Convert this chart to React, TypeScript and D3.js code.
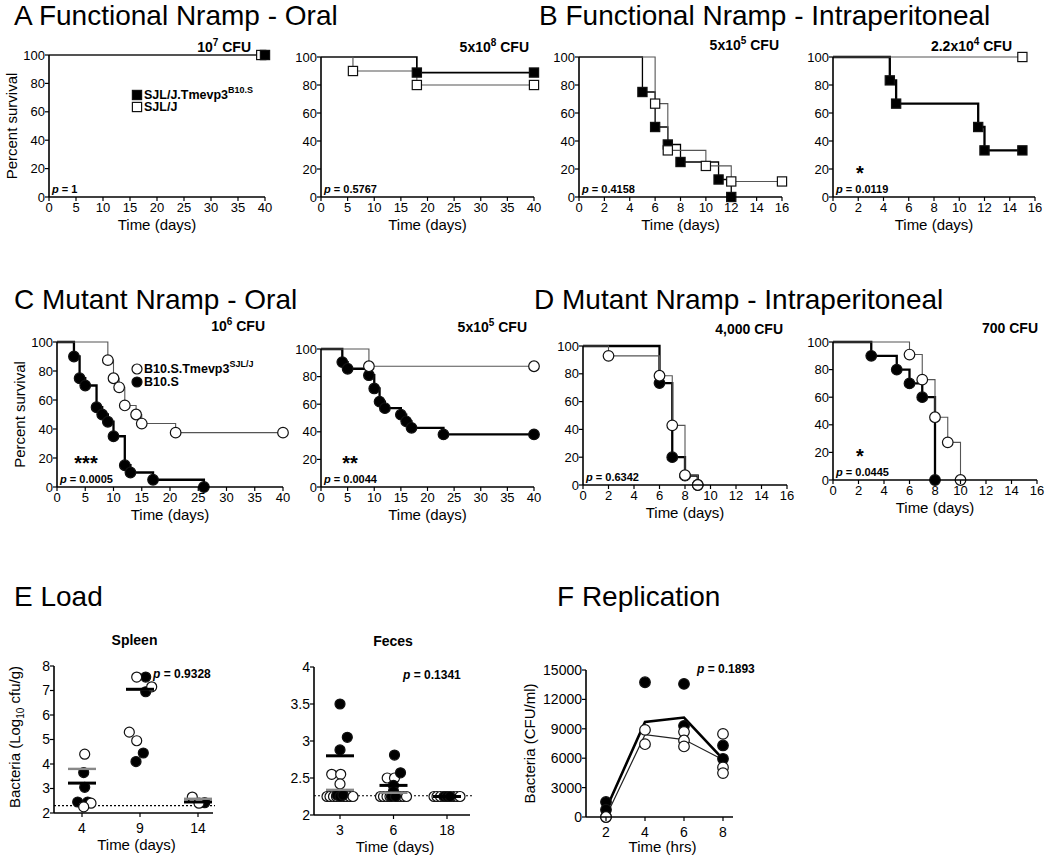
import React from "react";
import * as d3 from "d3";

const FONT = "'Liberation Sans', Arial, Helvetica, sans-serif";

// ---------------- DATA ----------------
const KM_Y_TICKS = [0, 20, 40, 60, 80, 100];
const X_TICKS_40 = [0, 5, 10, 15, 20, 25, 30, 35, 40];
const X_TICKS_16 = [0, 2, 4, 6, 8, 10, 12, 14, 16];

// A: Functional Nramp - Oral (squares). filled = SJL/J.Tmevp3B10.S, open = SJL/J
const A1_FILLED_T = [40];
const A1_FILLED_S = [100];
const A1_OPEN_T = [39.3];
const A1_OPEN_S = [100];
const A2_FILLED_T = [18, 40];
const A2_FILLED_S = [88.9, 88.9];
const A2_OPEN_T = [6, 18, 40];
const A2_OPEN_S = [90, 80, 80];

// B: Functional Nramp - Intraperitoneal
const B1_FILLED_T = [5, 6, 7, 8, 11, 12];
const B1_FILLED_S = [75, 50, 37.5, 25, 12.5, 0];
const B1_OPEN_T = [6, 7, 10, 12, 16];
const B1_OPEN_S = [66.7, 33.3, 22.2, 11.1, 11.1];
const B2_FILLED_T = [4.5, 5, 11.5, 12, 15];
const B2_FILLED_S = [83.3, 66.7, 50, 33.3, 33.3];
const B2_OPEN_T = [15];
const B2_OPEN_S = [100];

// C: Mutant Nramp - Oral (circles). filled = B10.S, open = B10.S.Tmevp3SJL/J
const C1_FILLED_T = [3, 4, 5, 7, 8, 9, 10, 12, 13, 17, 26];
const C1_FILLED_S = [90, 75, 70, 55, 50, 45, 35, 15, 10, 5, 0];
const C1_OPEN_T = [9, 10, 11, 12, 14, 15, 21, 40];
const C1_OPEN_S = [87.5, 75, 68.75, 56.25, 50, 43.75, 37.5, 37.5];
const C2_FILLED_T = [4, 5, 9, 10, 11, 12, 15, 16, 17, 23, 40];
const C2_FILLED_S = [90.5, 85.7, 81, 71.4, 61.9, 57.1, 52.4, 47.6, 42.9, 38.1, 38.1];
const C2_OPEN_T = [9, 40];
const C2_OPEN_S = [87.5, 87.5];

// D: Mutant Nramp - Intraperitoneal
const D1_FILLED_T = [6, 7, 8, 9];
const D1_FILLED_S = [73.3, 20, 6.7, 0];
const D1_OPEN_T = [2, 6, 7, 8, 9];
const D1_OPEN_S = [92.9, 78.6, 42.9, 7.1, 0];
const D2_FILLED_T = [3, 5, 6, 7, 8];
const D2_FILLED_S = [90, 80, 70, 60, 0];
const D2_OPEN_T = [6, 7, 8, 9, 10];
const D2_OPEN_S = [90.9, 72.7, 45.5, 27.3, 0];

// E: Load - Spleen (log10 cfu/g)
const SPLEEN_DAYS = ["4", "9", "14"];
const SPLEEN_Y_TICKS = [2, 3, 4, 5, 6, 7, 8];
const SPLEEN_FILLED_DAY = ["4", "4", "4", "4", "9", "9", "9", "9", "14"];
const SPLEEN_FILLED_VAL = [3.65, 3.05, 2.45, 2.45, 7.55, 6.95, 4.45, 4.1, 2.42];
const SPLEEN_FILLED_JIT = [0.17, 0.27, -0.43, 0.57, 0.57, 0.57, 0.33, -0.4, 0.67];
const SPLEEN_OPEN_DAY = ["4", "4", "4", "9", "9", "9", "9", "14", "14"];
const SPLEEN_OPEN_VAL = [4.4, 2.4, 2.25, 7.55, 7.15, 5.3, 4.95, 2.65, 2.4];
const SPLEEN_OPEN_JIT = [0.27, 0.9, 0.17, -0.33, 1.17, -1.07, -0.33, -0.57, 0.1];
const SPLEEN_FILLED_MEAN = [3.22, 7.05, 2.45];
const SPLEEN_OPEN_MEAN = [3.8, 7.05, 2.58];
const SPLEEN_LIMIT = 2.3;

// E: Load - Feces
const FECES_DAYS = ["3", "6", "18"];
const FECES_Y_TICKS = [2, 2.5, 3, 3.5, 4];
const FECES_FILLED_DAY = ["3", "3", "3", "3", "3", "3", "6", "6", "6", "6", "6", "6", "18", "18", "18"];
const FECES_FILLED_VAL = [3.5, 3.05, 2.88, 2.27, 2.25, 2.27, 2.81, 2.57, 2.4, 2.32, 2.25, 2.25, 2.25, 2.25, 2.25];
const FECES_FILLED_JIT = [0, 0.73, 0, -0.3, 0, 0.3, 0.1, 0.7, 0, 0, -0.2, 0.2, -0.3, 0, 0.3];
const FECES_OPEN_DAY = ["3", "3", "3", "3", "3", "3", "3", "3", "3", "3", "3", "6", "6", "6", "6", "6", "6", "6", "6", "6", "6", "18", "18", "18", "18", "18", "18"];
const FECES_OPEN_VAL = [2.55, 2.55, 2.42, 2.25, 2.25, 2.25, 2.25, 2.25, 2.25, 2.25, 2.25, 2.5, 2.5, 2.25, 2.25, 2.25, 2.25, 2.25, 2.25, 2.25, 2.25, 2.25, 2.25, 2.25, 2.25, 2.25, 2.25];
const FECES_OPEN_JIT = [-0.83, 0.07, 0, -1.3, -1.0, -0.65, -0.35, 0.35, 0.65, 1.0, 1.3, -0.63, 0.1, -1.3, -1.0, -0.65, -0.35, 0.35, 0.65, 1.0, 1.3, -1.3, -1.0, -0.65, 0.65, 1.0, 1.3];
const FECES_FILLED_MEAN = [2.8, 2.4, 2.25];
const FECES_OPEN_MEAN = [2.34, 2.3, 2.25];
const FECES_LIMIT = 2.26;

// F: Replication (CFU/ml)
const REP_TIMES = ["2", "4", "6", "8"];
const REP_Y_TICKS = [0, 3000, 6000, 9000, 12000, 15000];
const REP_FILLED_T = ["2", "2", "4", "6", "6", "8", "8"];
const REP_FILLED_VAL = [1530, 750, 13750, 13580, 9300, 7300, 5940];
const REP_OPEN_T = ["2", "2", "4", "4", "6", "6", "6", "8", "8", "8"];
const REP_OPEN_VAL = [0, 0, 8890, 7430, 8690, 7810, 7200, 8480, 5060, 4480];
const REP_FILLED_MEAN = [800, 9700, 10150, 5900];
const REP_OPEN_MEAN = [50, 8400, 7900, 5850];

// ---------------- helpers ----------------
type Part = [string, boolean?];
function Rich({ parts, supSize }: { parts: Part[]; supSize: number }) {
  const out: any[] = [];
  let raised = false;
  parts.forEach((p, i) => {
    const sup = !!p[1];
    let dy: any = undefined;
    if (sup && !raised) { dy = -6; raised = true; }
    else if (!sup && raised) { dy = 6; raised = false; }
    out.push(
      <tspan key={i} dy={dy} fontSize={sup ? supSize : undefined}>{p[0]}</tspan>
    );
  });
  return <>{out}</>;
}

function Square({ cx, cy, filled }: any) {
  const h = 4.6;
  return <rect x={cx - h} y={cy - h} width={2 * h} height={2 * h} fill={filled ? "#000" : "#fff"} stroke="#111" strokeWidth={1.2} />;
}
function Circle({ cx, cy, filled, r = 5.3 }: any) {
  return <circle cx={cx} cy={cy} r={r} fill={filled ? "#000" : "#fff"} stroke="#111" strokeWidth={1.2} />;
}

function KMPanel({ cfg }: any) {
  const x = d3.scaleLinear().domain([0, cfg.xMax]).range([cfg.left, cfg.right]);
  const y = d3.scaleLinear().domain([0, 100]).range([cfg.bottom, cfg.top]);
  const stepPath = (t: number[], s: number[]) => {
    let d = `M${x(0)},${y(100)}`;
    t.forEach((ti, i) => { d += `H${x(ti)}V${y(s[i])}`; });
    return d;
  };
  const Marker = cfg.shape === "square" ? Square : Circle;
  const series = [
    { t: cfg.filledT, s: cfg.filledS, filled: true },
    { t: cfg.openT, s: cfg.openS, filled: false },
  ];
  const order = cfg.openFirst ? [series[1], series[0]] : [series[0], series[1]];
  return (
    <g>
      {order.map((se, k) => (
        <path key={"l" + k} d={stepPath(se.t, se.s)} fill="none"
          stroke={se.filled ? "#000" : "#555"} strokeWidth={se.filled ? (cfg.filledW ?? 2.3) : 1.1} />
      ))}
      {order.map((se, k) => (
        <g key={"m" + k}>
          {se.t.map((ti: number, i: number) => (
            <Marker key={i} cx={x(ti)} cy={y(se.s[i])} filled={se.filled} />
          ))}
        </g>
      ))}
      {/* axes */}
      <line x1={cfg.left} x2={cfg.left} y1={cfg.top} y2={cfg.bottom} stroke="#000" strokeWidth={1.6} />
      <line x1={cfg.left} x2={cfg.right} y1={cfg.bottom} y2={cfg.bottom} stroke="#000" strokeWidth={1.6} />
      {KM_Y_TICKS.map((v) => (
        <g key={"y" + v}>
          <line x1={cfg.left - 4} x2={cfg.left} y1={y(v)} y2={y(v)} stroke="#000" strokeWidth={1.2} />
          <text x={cfg.left - 4} y={y(v)} dy="0.35em" textAnchor="end" fontSize={13}>{v}</text>
        </g>
      ))}
      {cfg.xTicks.map((v: number) => (
        <g key={"x" + v}>
          <line x1={x(v)} x2={x(v)} y1={cfg.bottom} y2={cfg.bottom + 4} stroke="#000" strokeWidth={1.2} />
          <text x={x(v)} y={cfg.bottom + 15} textAnchor="middle" fontSize={13}>{v}</text>
        </g>
      ))}
      <text x={(cfg.left + cfg.right) / 2} y={cfg.bottom + 33} textAnchor="middle" fontSize={15}>Time (days)</text>
      {cfg.yLabel && (
        <text transform={`translate(${cfg.left - 32},${(cfg.top + cfg.bottom) / 2}) rotate(-90)`} textAnchor="middle" fontSize={15}>Percent survival</text>
      )}
      <text x={cfg.doseX} y={cfg.doseY} textAnchor="end" fontSize={14} fontWeight="bold">
        <Rich parts={cfg.dose} supSize={10} />
      </text>
      <text x={cfg.left + 3} y={cfg.bottom - 4} fontSize={11} fontWeight="bold">
        <tspan fontStyle="italic">p</tspan>{" = " + cfg.p}
      </text>
      {cfg.star && (
        <text x={cfg.left + cfg.starDx} y={cfg.bottom - cfg.starDy} textAnchor="middle" fontSize={20} fontWeight="bold">{cfg.star}</text>
      )}
    </g>
  );
}

function ScatterPanel({ cfg }: any) {
  const x = d3.scalePoint().domain(cfg.cats).range([cfg.c0, cfg.c1]);
  const y = d3.scaleLinear().domain(cfg.yDomain).range([cfg.bottom, cfg.top]);
  const D = 10;
  const filledPts = cfg.fDay.map((d: string, i: number) => (
    <Circle key={"f" + i} cx={(x(d) as number) + cfg.fJit[i] * D} cy={y(cfg.fVal[i])} filled r={5} />
  ));
  const openPts = cfg.oDay.map((d: string, i: number) => (
    <Circle key={"o" + i} cx={(x(d) as number) + cfg.oJit[i] * D} cy={y(cfg.oVal[i])} filled={false} r={5} />
  ));
  return (
    <g>
      <line x1={cfg.left} x2={cfg.right + 2} y1={y(cfg.limit)} y2={y(cfg.limit)} stroke="#000" strokeWidth={1.2} strokeDasharray="2,2" />
      {cfg.filledOnTop ? <>{openPts}{filledPts}</> : <>{filledPts}{openPts}</>}
      {cfg.cats.map((c: string, i: number) => (
        <g key={"m" + c}>
          <line x1={(x(c) as number) - 14} x2={(x(c) as number) + 14} y1={y(cfg.oMean[i])} y2={y(cfg.oMean[i])} stroke="#888" strokeWidth={2.4} />
          <line x1={(x(c) as number) - 14} x2={(x(c) as number) + 14} y1={y(cfg.fMean[i])} y2={y(cfg.fMean[i])} stroke="#000" strokeWidth={3} />
        </g>
      ))}
      <line x1={cfg.left} x2={cfg.left} y1={cfg.top} y2={cfg.bottom} stroke="#000" strokeWidth={1.6} />
      <line x1={cfg.left} x2={cfg.right} y1={cfg.bottom} y2={cfg.bottom} stroke="#000" strokeWidth={1.6} />
      {cfg.yTicks.map((v: number) => (
        <g key={"y" + v}>
          <line x1={cfg.left - 4} x2={cfg.left} y1={y(v)} y2={y(v)} stroke="#000" strokeWidth={1.2} />
          <text x={cfg.left - 4} y={y(v)} dy="0.35em" textAnchor="end" fontSize={14}>{v}</text>
        </g>
      ))}
      {cfg.cats.map((c: string) => (
        <g key={"x" + c}>
          <line x1={x(c) as number} x2={x(c) as number} y1={cfg.bottom} y2={cfg.bottom + 4} stroke="#000" strokeWidth={1.2} />
          <text x={x(c) as number} y={cfg.bottom + 20} textAnchor="middle" fontSize={14}>{c}</text>
        </g>
      ))}
      <text x={(cfg.left + cfg.right) / 2 + 3} y={cfg.bottom + 37} textAnchor="middle" fontSize={15}>Time (days)</text>
      <text x={(cfg.left + cfg.right) / 2 + 1} y={cfg.top - 21} textAnchor="middle" fontSize={14} fontWeight="bold">{cfg.title}</text>
      <text x={cfg.pX} y={cfg.top + 12} fontSize={12} fontWeight="bold">
        <tspan fontStyle="italic">p</tspan>{" = " + cfg.p}
      </text>
    </g>
  );
}

function ReplicationPanel({ cfg }: any) {
  const x = d3.scalePoint().domain(REP_TIMES).range([cfg.c0, cfg.c1]);
  const y = d3.scaleLinear().domain([0, 15000]).range([cfg.bottom, cfg.top]);
  const line = d3.line<number>().x((_, i) => x(REP_TIMES[i]) as number).y((v) => y(v));
  return (
    <g>
      <path d={line(REP_OPEN_MEAN) || ""} fill="none" stroke="#222" strokeWidth={1.2} />
      <path d={line(REP_FILLED_MEAN) || ""} fill="none" stroke="#000" strokeWidth={2.6} />
      {REP_FILLED_T.map((t, i) => <Circle key={"f" + i} cx={x(t)} cy={y(REP_FILLED_VAL[i])} filled r={5.3} />)}
      {REP_OPEN_T.map((t, i) => <Circle key={"o" + i} cx={x(t)} cy={y(REP_OPEN_VAL[i])} filled={false} r={5.3} />)}
      <line x1={cfg.left} x2={cfg.left} y1={cfg.top} y2={cfg.bottom} stroke="#000" strokeWidth={1.6} />
      <line x1={cfg.left} x2={cfg.right} y1={cfg.bottom} y2={cfg.bottom} stroke="#000" strokeWidth={1.6} />
      {REP_Y_TICKS.map((v) => (
        <g key={"y" + v}>
          <line x1={cfg.left - 4} x2={cfg.left} y1={y(v)} y2={y(v)} stroke="#000" strokeWidth={1.2} />
          <text x={cfg.left - 4} y={y(v)} dy="0.35em" textAnchor="end" fontSize={14}>{v}</text>
        </g>
      ))}
      {REP_TIMES.map((c) => (
        <g key={"x" + c}>
          <line x1={x(c) as number} x2={x(c) as number} y1={cfg.bottom} y2={cfg.bottom + 4} stroke="#000" strokeWidth={1.2} />
          <text x={x(c) as number} y={cfg.bottom + 20} textAnchor="middle" fontSize={14}>{c}</text>
        </g>
      ))}
      <text x={(cfg.left + cfg.right) / 2 + 3} y={cfg.bottom + 35} textAnchor="middle" fontSize={15}>Time (hrs)</text>
      <text x={cfg.pX} y={cfg.top + 3} fontSize={12} fontWeight="bold">
        <tspan fontStyle="italic">p</tspan>{" = 0.1893"}
      </text>
      <text transform={`translate(535,${(cfg.top + cfg.bottom) / 2}) rotate(-90)`} textAnchor="middle" fontSize={15}>Bacteria (CFU/ml)</text>
    </g>
  );
}

// ---------------- layout ----------------
const KM_PANELS = [
  { left: 49, right: 265, top: 55, bottom: 197, xMax: 40, xTicks: X_TICKS_40, shape: "square", yLabel: true, filledW: 1.1,
    filledT: A1_FILLED_T, filledS: A1_FILLED_S, openT: A1_OPEN_T, openS: A1_OPEN_S, openFirst: true,
    dose: [["10"], ["7", true], [" CFU"]], doseX: 251, doseY: 52, p: "1" },
  { left: 321, right: 534, top: 57, bottom: 197, xMax: 40, xTicks: X_TICKS_40, shape: "square", filledW: 1.7,
    filledT: A2_FILLED_T, filledS: A2_FILLED_S, openT: A2_OPEN_T, openS: A2_OPEN_S,
    dose: [["5x10"], ["8", true], [" CFU"]], doseX: 529, doseY: 52, p: "0.5767" },
  { left: 579, right: 782, top: 57, bottom: 197, xMax: 16, xTicks: X_TICKS_16, shape: "square", filledW: 1.3,
    filledT: B1_FILLED_T, filledS: B1_FILLED_S, openT: B1_OPEN_T, openS: B1_OPEN_S,
    dose: [["5x10"], ["5", true], [" CFU"]], doseX: 779, doseY: 50, p: "0.4158" },
  { left: 833, right: 1035, top: 57, bottom: 197, xMax: 16, xTicks: X_TICKS_16, shape: "square",
    filledT: B2_FILLED_T, filledS: B2_FILLED_S, openT: B2_OPEN_T, openS: B2_OPEN_S,
    dose: [["2.2x10"], ["4", true], [" CFU"]], doseX: 1012, doseY: 51, p: "0.0119", star: "*", starDx: 27, starDy: 17 },
  { left: 57, right: 283, top: 342, bottom: 487, xMax: 40, xTicks: X_TICKS_40, shape: "circle", yLabel: true,
    filledT: C1_FILLED_T, filledS: C1_FILLED_S, openT: C1_OPEN_T, openS: C1_OPEN_S,
    dose: [["10"], ["6", true], [" CFU"]], doseX: 265, doseY: 331, p: "0.0005", star: "***", starDx: 29, starDy: 17 },
  { left: 321, right: 534, top: 349, bottom: 487, xMax: 40, xTicks: X_TICKS_40, shape: "circle",
    filledT: C2_FILLED_T, filledS: C2_FILLED_S, openT: C2_OPEN_T, openS: C2_OPEN_S,
    dose: [["5x10"], ["5", true], [" CFU"]], doseX: 527, doseY: 332, p: "0.0044", star: "**", starDx: 29, starDy: 17 },
  { left: 583, right: 787, top: 346, bottom: 485, xMax: 16, xTicks: X_TICKS_16, shape: "circle",
    filledT: D1_FILLED_T, filledS: D1_FILLED_S, openT: D1_OPEN_T, openS: D1_OPEN_S,
    dose: [["4,000 CFU"]], doseX: 783, doseY: 334, p: "0.6342" },
  { left: 833, right: 1037, top: 342, bottom: 480, xMax: 16, xTicks: X_TICKS_16, shape: "circle",
    filledT: D2_FILLED_T, filledS: D2_FILLED_S, openT: D2_OPEN_T, openS: D2_OPEN_S,
    dose: [["700 CFU"]], doseX: 1038, doseY: 333, p: "0.0445", star: "*", starDx: 27, starDy: 17 },
];

const SPLEEN_CFG = {
  left: 54, right: 213, top: 666, bottom: 813, c0: 82, c1: 198, yDomain: [2, 8], yTicks: SPLEEN_Y_TICKS,
  cats: SPLEEN_DAYS, fDay: SPLEEN_FILLED_DAY, fVal: SPLEEN_FILLED_VAL, fJit: SPLEEN_FILLED_JIT,
  oDay: SPLEEN_OPEN_DAY, oVal: SPLEEN_OPEN_VAL, oJit: SPLEEN_OPEN_JIT,
  fMean: SPLEEN_FILLED_MEAN, oMean: SPLEEN_OPEN_MEAN, limit: SPLEEN_LIMIT,
  title: "Spleen", p: "0.9328", pX: 153,
};
const FECES_CFG = {
  left: 314, right: 470, top: 667, bottom: 815, c0: 340, c1: 447, yDomain: [2, 4], yTicks: FECES_Y_TICKS,
  cats: FECES_DAYS, fDay: FECES_FILLED_DAY, fVal: FECES_FILLED_VAL, fJit: FECES_FILLED_JIT,
  oDay: FECES_OPEN_DAY, oVal: FECES_OPEN_VAL, oJit: FECES_OPEN_JIT, filledOnTop: true,
  fMean: FECES_FILLED_MEAN, oMean: FECES_OPEN_MEAN, limit: FECES_LIMIT,
  title: "Feces", p: "0.1341", pX: 403,
};
const REP_CFG = { left: 586, right: 733, top: 670, bottom: 817, c0: 606, c1: 723, pX: 697 };

export default function App() {
  return (
    <svg width={1050} height={864} style={{ position: "absolute", left: 0, top: 0, background: "#fff" }}
      fontFamily={FONT} fill="#000">
      <rect x={0} y={0} width={1050} height={864} fill="#fff" />
      {/* panel titles */}
      <text x={14} y={25} fontSize={28}>A Functional Nramp - Oral</text>
      <text x={539} y={25} fontSize={28}>B Functional Nramp - Intraperitoneal</text>
      <text x={14} y={309} fontSize={28}>C Mutant Nramp - Oral</text>
      <text x={534} y={309} fontSize={28}>D Mutant Nramp - Intraperitoneal</text>
      <text x={14} y={606} fontSize={28}>E Load</text>
      <text x={557} y={606} fontSize={28}>F Replication</text>

      {KM_PANELS.map((cfg, i) => <KMPanel key={i} cfg={cfg} />)}

      {/* legend A */}
      <Square cx={137} cy={95} filled />
      <text x={144} y={99} fontSize={12.5} fontWeight="bold"><Rich parts={[["SJL/J.Tmevp3"], ["B10.S", true]]} supSize={9} /></text>
      <Square cx={137} cy={107} filled={false} />
      <text x={144} y={111} fontSize={12.5} fontWeight="bold">SJL/J</text>

      {/* legend C */}
      <Circle cx={137} cy={369} filled={false} r={5} />
      <text x={144} y={373} fontSize={12.5} fontWeight="bold"><Rich parts={[["B10.S.Tmevp3"], ["SJL/J", true]]} supSize={9} /></text>
      <Circle cx={137} cy={382} filled r={5} />
      <text x={144} y={386} fontSize={12.5} fontWeight="bold">B10.S</text>

      <ScatterPanel cfg={SPLEEN_CFG} />
      <ScatterPanel cfg={FECES_CFG} />
      <text transform="translate(20,737) rotate(-90)" textAnchor="middle" fontSize={15}>
        Bacteria (Log<tspan fontSize={10} dy={4}>10</tspan><tspan dy={-4}> cfu/g)</tspan>
      </text>
      <ReplicationPanel cfg={REP_CFG} />
    </svg>
  );
}
